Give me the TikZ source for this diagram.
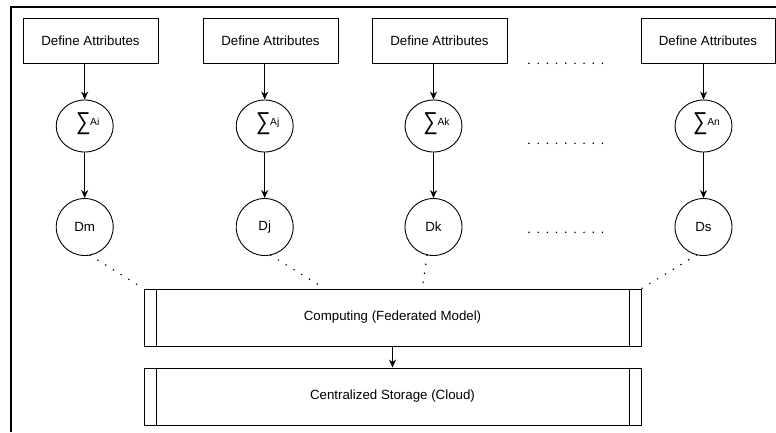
\documentclass[tikz,border=0pt]{standalone}
\usepackage{fontspec}
\usepackage{graphicx}
\setmainfont{Liberation Sans}
\usetikzlibrary{shapes.geometric,arrows.meta}
\newcommand{\mainfs}{\fontsize{13.3}{16}\selectfont}
\newcommand{\supfs}{\fontsize{10.3}{12}\selectfont}
\newcommand{\sigmalabel}[1]{\raisebox{\depth}{\resizebox*{14.5pt}{22pt}{∑}}\hspace{-0.3pt}\raisebox{9.3pt}{\supfs #1}}
\begin{document}
\begin{tikzpicture}[x=1pt,y=-1pt,
  attrbox/.style={draw, line width=0.9pt, minimum width=135pt, minimum height=45pt, inner sep=0pt, font=\mainfs},
  sigcirc/.style={draw, line width=0.9pt, ellipse, minimum width=57pt, minimum height=52pt, inner sep=0pt},
  sigtext/.style={inner sep=0pt},
  dcirc/.style={draw, line width=0.9pt, circle, minimum size=57pt, inner sep=0pt, font=\mainfs},
  procbox/.style={draw, line width=0.9pt, minimum width=497pt, minimum height=57pt, inner sep=0pt, font=\mainfs},
  arr/.style={line width=0.9pt, -{Stealth[length=8pt,width=7pt,inset=2.5pt]}},
  dotline/.style={line width=1.7pt, line cap=round, dash pattern=on 0pt off 9.1pt},
  frameline/.style={line width=1.3pt}
]
\useasboundingbox (0,0) rectangle (776,432);
% frame (only top and left edges visible)
\coordinate (fbl) at (11,432);
\coordinate (ftl) at (11,7);
\coordinate (ftr) at (776,7);
\draw[frameline] (fbl) -- (ftl) -- (ftr);

% top boxes
\node[attrbox] (a1) at (90.5,40.5) {Define Attributes};
\node[attrbox] (a2) at (270.5,40.5) {Define Attributes};
\node[attrbox] (a3) at (439.5,40.5) {Define Attributes};
\node[attrbox, minimum width=134pt] (a4) at (708,40.5) {Define Attributes};

% sigma circles
\node[sigcirc] (s1) at (84.7,126) {};
\node[sigcirc] (s2) at (264.7,126) {};
\node[sigcirc] (s3) at (433.5,126) {};
\node[sigcirc] (s4) at (703.5,126) {};
\foreach \i/\t in {1/Ai,2/Aj,3/Ak,4/An}{
  \node[sigtext] (s\i l) at ([shift={(3,-2.2)}]s\i.center) {\sigmalabel{\t}};
}

% data circles
\node[dcirc] (d1) at (84.7,227) {Dm};
\node[dcirc] (d2) at (264.7,227) {Dj};
\node[dcirc] (d3) at (433.5,227) {Dk};
\node[dcirc] (d4) at (703.5,227) {Ds};

% arrows
\foreach \i in {1,2,3,4}{
  \draw[arr] (s\i |- a\i.south) -- (s\i.north);
  \draw[arr] (s\i.south) -- (d\i.north);
}

% computing and storage
\node[procbox] (comp) at (392.5,317.5) {Computing (Federated Model)};
\node[procbox] (stor) at (392.5,396.5) {Centralized Storage (Cloud)};
\foreach \b in {comp,stor}{
  \draw[line width=0.9pt] ([xshift=13pt]\b.north west) -- ([xshift=13pt]\b.south west);
  \draw[line width=0.9pt] ([xshift=-12pt]\b.north east) -- ([xshift=-12pt]\b.south east);
}
\draw[arr] (comp.south) -- (stor.north);

% dotted connectors
\draw[dotline] (d1.-79) -- (comp.north west);
\draw[dotline] (d2.-78) -- ([xshift=181pt]comp.north west);
\draw[dotline] (d3.-103) -- ([xshift=278.7pt]comp.north west);
\draw[dotline] (d4.-104) -- (comp.north east);

% ellipsis rows
\coordinate (r1a) at (529,63.3);  \coordinate (r1b) at (602.5,63.3);
\coordinate (r2a) at (529,143.3); \coordinate (r2b) at (602.5,143.3);
\coordinate (r3a) at (529,232.3); \coordinate (r3b) at (602.5,232.3);
\draw[dotline, dash pattern=on 0pt off 9.18pt] (r1a) -- (r1b);
\draw[dotline, dash pattern=on 0pt off 9.18pt] (r2a) -- (r2b);
\draw[dotline, dash pattern=on 0pt off 9.18pt] (r3a) -- (r3b);
\end{tikzpicture}
\end{document}
